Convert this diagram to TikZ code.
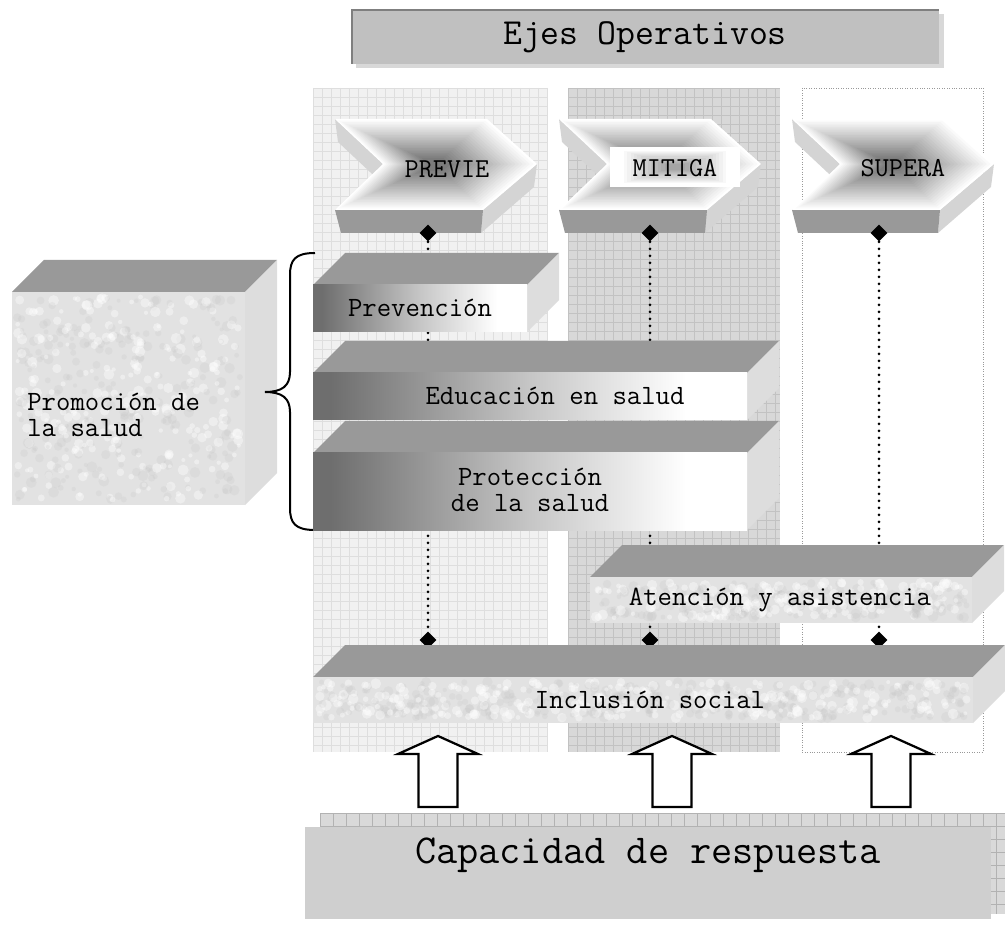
\documentclass[tikz,border=0pt]{standalone}
\usepackage{fontspec}
\usetikzlibrary{shapes.geometric}

\definecolor{colA}{HTML}{F1F1F1}
\definecolor{gridA}{HTML}{DEDEDE}
\definecolor{colB}{HTML}{D8D8D8}
\definecolor{gridB}{HTML}{C2C2C2}
\definecolor{topgray}{HTML}{999999}
\definecolor{sidegray}{HTML}{DDDDDD}
\definecolor{stone}{HTML}{E2E2E2}
\definecolor{slabdark}{HTML}{6E6E6E}
\definecolor{slabmid}{HTML}{C6C6C6}
\definecolor{chevdark}{HTML}{767676}
\definecolor{chevside}{HTML}{D4D4D4}
\definecolor{glowgray}{HTML}{8C8C8C}
\definecolor{titlegray}{HTML}{C0C0C0}
\definecolor{titleedge}{HTML}{7F7F7F}
\definecolor{titleshadow}{HTML}{D8D8D8}
\definecolor{capgray}{HTML}{CFCFCF}
\definecolor{capband}{HTML}{D9D9D9}
\definecolor{capgrid}{HTML}{B2B2B2}
\definecolor{dotgray}{HTML}{999999}

\pgfdeclarehorizontalshading{slabshade}{100bp}{color(0bp)=(slabdark); color(27bp)=(slabdark); color(50bp)=(slabmid); color(68bp)=(white); color(100bp)=(white)}

\pgfdeclarelayer{back}
\pgfsetlayers{back,main}

\tikzset{
	lbl/.style={inner sep=0pt, font=\ttfamily\fontsize{15.9}{14.8}\selectfont, align=center},
	chevlbl/.style={inner sep=0pt, font=\ttfamily\fontsize{15.6}{15}\selectfont},
	topface/.style={fill=topgray},
	sideface/.style={fill=sidegray},
	slabfront/.style={shade, shading=slabshade},
	stonefront/.style={fill=stone},
	dmd/.style={diamond, fill=black, inner sep=0pt, minimum size=0.34cm},
	dotline/.style={line width=0.06cm, line cap=round, dash pattern=on 0pt off 0.14cm},
	blockarr/.style={draw=black, fill=white, line width=0.045cm, line join=miter},
}

% front rectangle x1,y1,x2,y2 and style of the front face
\newcommand{\boxslab}[5]{%
	\fill[topface] (#1,#2) -- (#1+32,#2-32) -- (#3+32,#2-32) -- (#3,#2) -- cycle;
	\fill[sideface] (#3,#2) -- (#3+32,#2-32) -- (#3+32,#4-32) -- (#3,#4) -- cycle;
	\path[#5] (#1,#2) rectangle (#3,#4);
}
% mottled texture on a stone face
\newcommand{\speckle}[5]{%
	\foreach \k in {1,...,#5}{
		\pgfmathsetmacro\sx{#1+5+rnd*(#3-#1-10)}
		\pgfmathsetmacro\sy{#2+5+rnd*(#4-#2-10)}
		\pgfmathsetmacro\sr{2+rnd*3.5}
		\fill[gray!50, opacity=0.18] (\sx,\sy) circle (\sr);
		\pgfmathsetmacro\sx{#1+5+rnd*(#3-#1-10)}
		\pgfmathsetmacro\sy{#2+5+rnd*(#4-#2-10)}
		\fill[white, opacity=0.4] (\sx,\sy) circle (\sr);
	}
}
% chevron with left edge at x0
\newcommand{\chevronshape}[1]{%
	\fill[chevside] (#1,119) -- (#1+48,164) -- (#1+51,187) -- (#1+3,142) -- cycle;
	\fill[chevside] (#1+202,164) -- (#1+148,210) -- (#1+146,233) -- (#1+199,187) -- cycle;
	\fill[topgray] (#1,210) -- (#1+148,210) -- (#1+146,233) -- (#1+6,233) -- cycle;
	\foreach \k in {0,...,24}{
		\pgfmathsetmacro\s{1-\k/28}
		\pgfmathsetmacro\w{100-4*\k}
		\fill[white!\w!chevdark, shift={(#1+101,164.5)}, scale=\s]
			(-101,-45.5) -- (51,-45.5) -- (101,-0.5) -- (47,45.5) -- (-101,45.5) -- (-53,-0.5) -- cycle;
	}
}

\begin{document}
\begin{tikzpicture}[x=0.02cm,y=-0.02cm]
	\useasboundingbox (0,0) rectangle (1005,929);
	\pgfmathsetseed{11}

	% title
	\fill[titleshadow] (356,14) rectangle (944,68);
	\fill[titlegray] (352,10) rectangle (939,64);
	\draw[titleedge, line width=0.05cm] (352,64) -- (352,10) -- (939,10);
	\node[inner sep=0pt, font=\ttfamily\fontsize{20.9}{22}\selectfont] (ejes) at (645,37) {Ejes Operativos};

	% chevrons
	\chevronshape{335}
	\chevronshape{559}
	\chevronshape{792}
	\foreach \k in {0,...,16}{
		\pgfmathsetmacro\s{1-\k/19}
		\pgfmathsetmacro\w{min(100,118-6*\k)}
		\fill[white!\w!glowgray, shift={(675,167)}, scale=\s] (-65,-20) rectangle (65,20);
	}
	\node[chevlbl] (previe) at (447,169) {PREVIE};
	\node[chevlbl] (mitiga) at (675,168) {MITIGA};
	\node[chevlbl] (supera) at (903,168) {SUPERA};

	\node[dmd] (t1) at (428,233) {};
	\node[dmd] (t2) at (650,233) {};
	\node[dmd] (t3) at (879,233) {};
	\node[dmd] (b1) at (428,640) {};
	\node[dmd] (b2) at (650,640) {};
	\node[dmd] (b3) at (879,640) {};

	% promocion cube and brace
	\boxslab{12}{292}{245}{505}{stonefront}
	\speckle{12}{292}{245}{505}{260}
	\node[lbl, anchor=west, align=left] (promo) at (27,415) {Promoción de\\la salud};
	\draw[line width=0.04cm] (315,253) .. controls (295,253) and (290,260) .. (290,275) -- (290,372)
		.. controls (290,386) and (282,392) .. (265,392) .. controls (282,392) and (290,398) .. (290,412)
		-- (290,508) .. controls (290,523) and (295,530) .. (315,530);

	% slabs
	\boxslab{313}{285}{527}{332}{slabfront}
	\boxslab{313}{373}{747}{420}{slabfront}
	\boxslab{313}{453}{747}{530}{slabfront}
	\boxslab{590}{577}{972}{623}{stonefront}
	\speckle{590}{577}{972}{623}{180}
	\boxslab{313}{677}{973}{723}{stonefront}
	\speckle{313}{677}{973}{723}{300}
	\node[lbl] (prev) at (420,308) {Prevención};
	\node[lbl] (edu) at (555,396) {Educación en salud};
	\node[lbl] (prot) at (530,490) {Protección\\de la salud};
	\node[lbl] (aten) at (780,600) {Atención y asistencia};
	\node[lbl] (incl) at (650,700) {Inclusión social};

	% capacidad
	\fill[capband] (320,813) rectangle (1005,914);
	\foreach \i in {0,...,52}
		\draw[capgrid, line width=0.3pt] ({320+13*\i},813) -- ({320+13*\i},914);
	\foreach \j in {0,...,7}
		\draw[capgrid, line width=0.3pt] (320,{813+13*\j}) -- (1005,{813+13*\j});
	\fill[capgray] (305,827) rectangle (991,919);
	\node[inner sep=0pt, font=\ttfamily\fontsize{23.4}{24}\selectfont] (cap) at (648,855) {Capacidad de respuesta};

	\foreach \ax in {438,672,891}
		\draw[blockarr] (\ax-19.5,807) -- (\ax-19.5,754) -- (\ax-40,754) -- (\ax,736) -- (\ax+40,754) -- (\ax+19.5,754) -- (\ax+19.5,807) -- cycle;

	\begin{pgfonlayer}{back}
		\fill[colA] (313,88) rectangle (548,752);
		\foreach \i in {0,...,26}
			\draw[gridA, line width=0.3pt] ({313+9*\i},88) -- ({313+9*\i},752);
		\foreach \j in {0,...,73}
			\draw[gridA, line width=0.3pt] (313,{88+9*\j}) -- (548,{88+9*\j});
		\fill[colB] (568,88) rectangle (780,752);
		\foreach \i in {0,...,23}
			\draw[gridB, line width=0.3pt] ({568+9*\i},88) -- ({568+9*\i},752);
		\foreach \j in {0,...,73}
			\draw[gridB, line width=0.3pt] (568,{88+9*\j}) -- (780,{88+9*\j});
		\draw[dotgray, densely dotted] (802,88) rectangle (983,752);

		\draw[dotline] (t1) -- (b1);
		\draw[dotline] (t2) -- (b2);
		\draw[dotline] (t3) -- (b3);
	\end{pgfonlayer}
\end{tikzpicture}
\end{document}
